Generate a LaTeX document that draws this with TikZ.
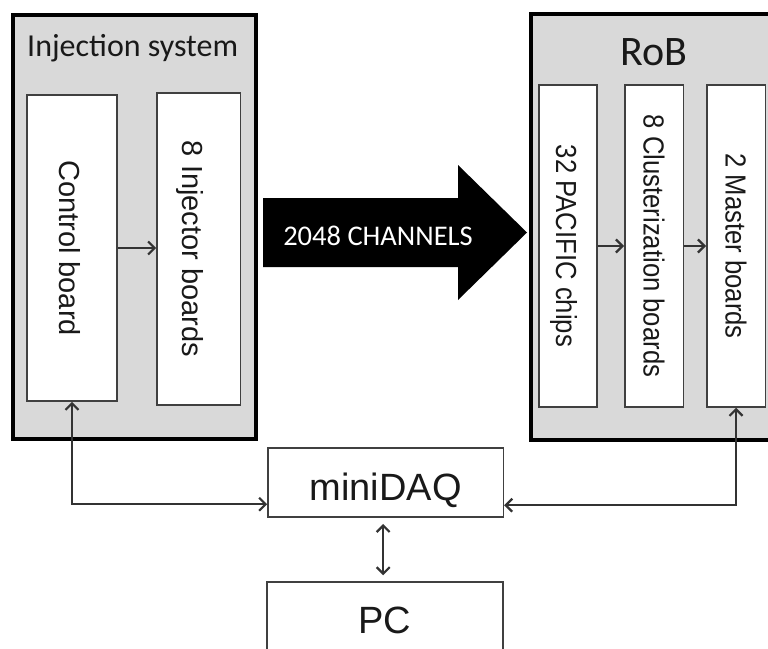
\documentclass[tikz,border=0pt]{standalone}
\usepackage{graphicx}
\usepackage{fontspec}
\setmainfont{Liberation Sans}
\newfontfamily\carl{Carlito}
\usetikzlibrary{arrows.meta}
\begin{document}
\begin{tikzpicture}[x=1pt,y=-1pt,
  outerbox/.style={draw=black, line width=4pt, fill=gray!30, inner sep=0pt},
  board/.style={draw=black!75, line width=1.5pt, fill=white, inner sep=0pt, rotate=-90,
    font=\fontsize{29}{29}\selectfont, text=black!90, text height=21pt, text depth=0pt},
  plainbox/.style={draw=black!75, line width=1.5pt, fill=white, inner sep=0pt,
    font=\fontsize{38}{38}\selectfont, text=black!90},
  tip/.tip={Straight Barb[length=6.5pt,width=13pt,line width=2.2pt]},
  conn/.style={draw=black!80, line width=1.6pt, -tip},
  dconn/.style={draw=black!80, line width=1.6pt, tip-tip},
  title/.style={inner sep=0pt, text=black!90}
]
\useasboundingbox (0,0) rectangle (768,648);
\clip (0,0) rectangle (768,648);

% outer containers
\node[outerbox, minimum width=243pt, minimum height=424pt] (inj) at (134,227) {};
\node[title, font=\carl\fontsize{32}{32}\selectfont, anchor=base west] (injt) at (27,56) {Injection system};
\node[outerbox, minimum width=259pt, minimum height=426pt] (rob) at (660.5,227) {};
\node[title, font=\carl\fontsize{42}{42}\selectfont, anchor=base] (robt) at (653.5,65) {RoB};

% boards (rotated: north = screen right, south = screen left, east = screen bottom)
\node[board, minimum width=306pt, minimum height=90pt, text height=25pt] (cb) at (72,248) {Control board};
\node[board, minimum width=312pt, minimum height=83.5pt, text height=33pt] (ib) at (198.7,249) {8 Injector boards};
\node[board, minimum width=322pt, minimum height=58pt, text height=24pt] (pac) at (568,246) {\scalebox{0.885}[1]{32 PACIFIC chips}};
\node[board, minimum width=322pt, minimum height=58.5pt] (clu) at (654,246) {\scalebox{0.885}[1]{8 Clusterization boards}};
\node[board, minimum width=322pt, minimum height=58.5pt] (mas) at (736,246) {\scalebox{0.885}[1]{2 Master boards}};

% big arrow
\fill[black] (263,198) -- (458,198) -- (458,165) -- (527,232.5) -- (458,300) -- (458,267) -- (263,267) -- cycle;
\node[font=\carl\fontsize{28.5}{28.5}\selectfont, text=white, anchor=base, inner sep=0pt] (chan) at (378,245) {2048 CHANNELS};

% lower boxes
\node[plainbox, minimum width=235.5pt, minimum height=69pt, text height=35pt, text depth=0pt] (mdaq) at (385.7,482.7) {miniDAQ};
\node[plainbox, minimum width=236pt, minimum height=108pt, text height=27pt, text depth=33pt] (pc) at (385,636) {PC};

% connectors
\draw[conn] (cb.north) -- (cb.north -| ib.south);
\draw[conn] (pac.north) -- (pac.north -| clu.south);
\draw[conn] (clu.north) -- (clu.north -| mas.south);
\draw[dconn] (cb.east) |- ([yshift=-21.5pt]mdaq.west);
\draw[dconn] (mas.east) |- ([yshift=-22.5pt]mdaq.east);
\draw[dconn, shorten <=6pt, shorten >=6pt] ([xshift=-2.5pt]mdaq.south) -- ([xshift=-2.5pt]mdaq.south |- pc.north);
\end{tikzpicture}
\end{document}
